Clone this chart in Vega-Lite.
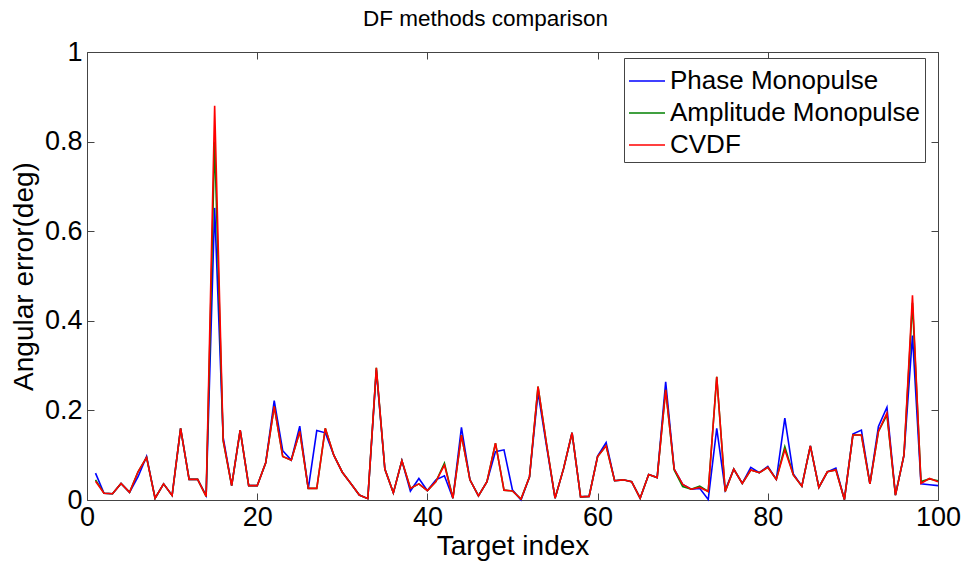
{
  "$schema": "https://vega.github.io/schema/vega-lite/v6.json",
  "width": 851,
  "height": 448,
  "autosize": "none",
  "padding": {"left": 87, "top": 52, "right": 32, "bottom": 70},
  "background": "white",
  "title": {"text": "DF methods comparison", "fontSize": 22.5, "font": "Liberation Sans", "fontWeight": "normal", "color": "black", "dx": -27, "offset": 8},
  "config": {"view": {"stroke": "#444", "strokeWidth": 1}, "font": "Liberation Sans"},
  "data": {"values": [
    {"i":1,"p":0.060,"a":0.045,"c":0.042},{"i":2,"p":0.015,"a":0.015,"c":0.015},{"i":3,"p":0.014,"a":0.014,"c":0.014},{"i":4,"p":0.037,"a":0.037,"c":0.037},{"i":5,"p":0.017,"a":0.017,"c":0.017},
    {"i":6,"p":0.052,"a":0.063,"c":0.063},{"i":7,"p":0.097,"a":0.095,"c":0.095},{"i":8,"p":0.004,"a":0.004,"c":0.004},{"i":9,"p":0.036,"a":0.036,"c":0.036},{"i":10,"p":0.010,"a":0.010,"c":0.010},
    {"i":11,"p":0.160,"a":0.160,"c":0.160},{"i":12,"p":0.046,"a":0.046,"c":0.046},{"i":13,"p":0.046,"a":0.046,"c":0.046},{"i":14,"p":0.010,"a":0.008,"c":0.008},{"i":15,"p":0.652,"a":0.800,"c":0.880},
    {"i":16,"p":0.140,"a":0.132,"c":0.134},{"i":17,"p":0.032,"a":0.032,"c":0.032},{"i":18,"p":0.156,"a":0.156,"c":0.156},{"i":19,"p":0.032,"a":0.032,"c":0.032},{"i":20,"p":0.032,"a":0.032,"c":0.032},
    {"i":21,"p":0.083,"a":0.083,"c":0.083},{"i":22,"p":0.222,"a":0.209,"c":0.209},{"i":23,"p":0.110,"a":0.097,"c":0.097},{"i":24,"p":0.089,"a":0.089,"c":0.089},{"i":25,"p":0.165,"a":0.153,"c":0.153},
    {"i":26,"p":0.025,"a":0.026,"c":0.026},{"i":27,"p":0.155,"a":0.026,"c":0.026},{"i":28,"p":0.150,"a":0.160,"c":0.160},{"i":29,"p":0.100,"a":0.100,"c":0.100},{"i":30,"p":0.062,"a":0.062,"c":0.062},
    {"i":31,"p":0.037,"a":0.037,"c":0.037},{"i":32,"p":0.011,"a":0.011,"c":0.011},{"i":33,"p":0.003,"a":0.003,"c":0.003},{"i":34,"p":0.290,"a":0.295,"c":0.295},{"i":35,"p":0.069,"a":0.069,"c":0.069},
    {"i":36,"p":0.016,"a":0.016,"c":0.016},{"i":37,"p":0.088,"a":0.088,"c":0.088},{"i":38,"p":0.020,"a":0.026,"c":0.026},{"i":39,"p":0.048,"a":0.036,"c":0.036},{"i":40,"p":0.021,"a":0.021,"c":0.021},
    {"i":41,"p":0.045,"a":0.041,"c":0.041},{"i":42,"p":0.054,"a":0.082,"c":0.078},{"i":43,"p":0.004,"a":0.004,"c":0.004},{"i":44,"p":0.162,"a":0.145,"c":0.145},{"i":45,"p":0.045,"a":0.045,"c":0.045},
    {"i":46,"p":0.009,"a":0.009,"c":0.009},{"i":47,"p":0.041,"a":0.041,"c":0.041},{"i":48,"p":0.108,"a":0.127,"c":0.127},{"i":49,"p":0.112,"a":0.022,"c":0.022},{"i":50,"p":0.022,"a":0.020,"c":0.020},
    {"i":51,"p":0.000,"a":0.002,"c":0.002},{"i":52,"p":0.052,"a":0.052,"c":0.052},{"i":53,"p":0.240,"a":0.253,"c":0.253},{"i":54,"p":0.120,"a":0.125,"c":0.125},{"i":55,"p":0.004,"a":0.004,"c":0.004},
    {"i":56,"p":0.070,"a":0.070,"c":0.070},{"i":57,"p":0.150,"a":0.150,"c":0.150},{"i":58,"p":0.007,"a":0.007,"c":0.007},{"i":59,"p":0.008,"a":0.008,"c":0.008},{"i":60,"p":0.098,"a":0.097,"c":0.097},
    {"i":61,"p":0.128,"a":0.121,"c":0.121},{"i":62,"p":0.043,"a":0.043,"c":0.043},{"i":63,"p":0.045,"a":0.045,"c":0.045},{"i":64,"p":0.041,"a":0.041,"c":0.041},{"i":65,"p":0.004,"a":0.004,"c":0.004},
    {"i":66,"p":0.057,"a":0.057,"c":0.057},{"i":67,"p":0.050,"a":0.050,"c":0.050},{"i":68,"p":0.264,"a":0.246,"c":0.246},{"i":69,"p":0.069,"a":0.067,"c":0.069},{"i":70,"p":0.035,"a":0.030,"c":0.035},
    {"i":71,"p":0.024,"a":0.024,"c":0.024},{"i":72,"p":0.026,"a":0.031,"c":0.028},{"i":73,"p":0.001,"a":0.019,"c":0.019},{"i":74,"p":0.160,"a":0.275,"c":0.275},{"i":75,"p":0.022,"a":0.019,"c":0.019},
    {"i":76,"p":0.069,"a":0.069,"c":0.069},{"i":77,"p":0.037,"a":0.037,"c":0.037},{"i":78,"p":0.073,"a":0.067,"c":0.067},{"i":79,"p":0.061,"a":0.061,"c":0.061},{"i":80,"p":0.075,"a":0.073,"c":0.073},
    {"i":81,"p":0.046,"a":0.046,"c":0.046},{"i":82,"p":0.183,"a":0.119,"c":0.112},{"i":83,"p":0.058,"a":0.056,"c":0.056},{"i":84,"p":0.031,"a":0.031,"c":0.031},{"i":85,"p":0.121,"a":0.121,"c":0.121},
    {"i":86,"p":0.028,"a":0.028,"c":0.028},{"i":87,"p":0.063,"a":0.063,"c":0.063},{"i":88,"p":0.071,"a":0.067,"c":0.067},{"i":89,"p":0.001,"a":0.001,"c":0.001},{"i":90,"p":0.147,"a":0.145,"c":0.145},
    {"i":91,"p":0.156,"a":0.145,"c":0.145},{"i":92,"p":0.036,"a":0.036,"c":0.036},{"i":93,"p":0.164,"a":0.153,"c":0.153},{"i":94,"p":0.207,"a":0.190,"c":0.194},{"i":95,"p":0.011,"a":0.011,"c":0.011},
    {"i":96,"p":0.100,"a":0.100,"c":0.100},{"i":97,"p":0.367,"a":0.440,"c":0.457},{"i":98,"p":0.036,"a":0.041,"c":0.037},{"i":99,"p":0.034,"a":0.047,"c":0.048},{"i":100,"p":0.032,"a":0.043,"c":0.041}
  ]},
  "layer": [
    {
      "mark": {"type": "line", "strokeWidth": 1.6},
      "encoding": {
        "x": {"field": "i", "type": "quantitative", "scale": {"domain": [0, 100], "nice": false},
              "axis": {"orient": "bottom", "values": [0,20,40,60,80,100], "grid": false, "domain": false, "tickSize": -7, "tickColor": "#444", "labelPadding": 11, "labelFontSize": 27, "labelColor": "black", "labelFont": "Liberation Sans", "title": "Target index", "titleFontSize": 28, "titleFontWeight": "normal", "titleColor": "black", "titleFont": "Liberation Sans", "titlePadding": 2, "labelFlush": false, "labelOverlap": false}},
        "y": {"field": "p", "type": "quantitative", "scale": {"domain": [0, 1], "nice": false},
              "axis": {"orient": "left", "values": [0,0.2,0.4,0.6,0.8,1], "format": "~g", "grid": false, "domain": false, "tickSize": -7, "tickColor": "#444", "labelPadding": 12, "labelFontSize": 27, "labelColor": "black", "labelFont": "Liberation Sans", "title": "Angular error(deg)", "titleFontSize": 28, "titleFontWeight": "normal", "titleColor": "black", "titleFont": "Liberation Sans", "titlePadding": 6, "labelFlush": false, "labelOverlap": false}},
        "color": {"datum": "Phase Monopulse", "type": "nominal",
                  "scale": {"domain": ["Phase Monopulse", "Amplitude Monopulse", "CVDF"], "range": ["#0000FF", "#008000", "#FF0000"]},
                  "legend": {"orient": "none", "legendX": 537, "legendY": 6, "title": null, "fillColor": "white", "strokeColor": "#444", "padding": 4, "labelFontSize": 26, "labelFont": "Liberation Sans", "labelColor": "black", "labelLimit": 0, "labelOffset": 4, "symbolType": "stroke", "symbolStrokeWidth": 1.5, "symbolSize": 1296, "rowPadding": -4}}
      }
    },
    {
      "mark": {"type": "line", "strokeWidth": 1.6},
      "encoding": {
        "x": {"field": "i", "type": "quantitative", "axis": null},
        "y": {"field": "a", "type": "quantitative", "axis": null},
        "color": {"datum": "Amplitude Monopulse", "type": "nominal"}
      }
    },
    {
      "mark": {"type": "line", "strokeWidth": 1.6},
      "encoding": {
        "x": {"field": "i", "type": "quantitative", "axis": null},
        "y": {"field": "c", "type": "quantitative", "axis": null},
        "color": {"datum": "CVDF", "type": "nominal"}
      }
    },
    {
      "mark": {"type": "line", "opacity": 0},
      "encoding": {
        "x": {"field": "i", "type": "quantitative",
              "axis": {"orient": "top", "values": [0,20,40,60,80,100], "labels": false, "title": null, "grid": false, "domain": false, "tickSize": -7, "tickColor": "#444"}},
        "y": {"field": "c", "type": "quantitative",
              "axis": {"orient": "right", "values": [0,0.2,0.4,0.6,0.8,1], "labels": false, "title": null, "grid": false, "domain": false, "tickSize": -7, "tickColor": "#444"}}
      }
    }
  ],
  "resolve": {"axis": {"x": "independent", "y": "independent"}}
}
